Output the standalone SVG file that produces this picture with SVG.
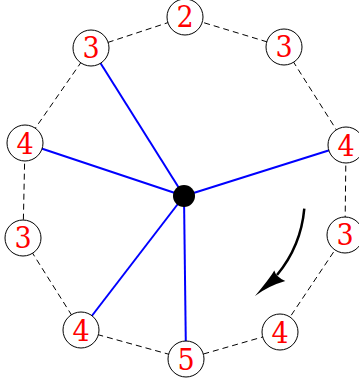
<svg xmlns="http://www.w3.org/2000/svg" width="359" height="383" viewBox="0 0 359 383">
<style>
.node circle{fill:#fff;stroke:#000;stroke-width:1}
.node text{fill:#ff0000;font-family:"DejaVu Serif Condensed","DejaVu Serif",serif;font-stretch:condensed;font-size:30px;text-anchor:middle}
.dash{stroke:#000;stroke-width:1;stroke-dasharray:6,4;fill:none}
.spoke{stroke:#0000ff;stroke-width:2;fill:none}
</style>
<rect width="359" height="383" fill="#fff"/>
<g id="connectors">
<polygon class="dash" points="185,17 284,47 346,145 345,235 280,332 186,359 81,330 23,238 25,143 91,48"/>
<line class="spoke" x1="184" y1="196" x2="91" y2="48"/>
<line class="spoke" x1="184" y1="196" x2="25" y2="143"/>
<line class="spoke" x1="184" y1="196" x2="346" y2="145"/>
<line class="spoke" x1="184" y1="196" x2="81" y2="330"/>
<line class="spoke" x1="184" y1="196" x2="186" y2="359"/>
</g>
<g id="n2" class="node"><circle cx="185" cy="17" r="18"/><text x="185" y="27">2</text></g>
<g id="n3a" class="node"><circle cx="91" cy="48" r="18"/><text x="91" y="58">3</text></g>
<g id="n3b" class="node"><circle cx="284" cy="47" r="18"/><text x="284" y="57">3</text></g>
<g id="n4a" class="node"><circle cx="25" cy="143" r="18"/><text x="25" y="154">4</text></g>
<g id="n4b" class="node"><circle cx="346" cy="145" r="18"/><text x="346" y="156">4</text></g>
<g id="n3c" class="node"><circle cx="23" cy="238" r="18"/><text x="23" y="248">3</text></g>
<g id="n3d" class="node"><circle cx="345" cy="235" r="18"/><text x="345" y="245">3</text></g>
<g id="n4c" class="node"><circle cx="81" cy="330" r="18"/><text x="81" y="341">4</text></g>
<g id="n4d" class="node"><circle cx="280" cy="332" r="18"/><text x="280" y="343">4</text></g>
<g id="n5" class="node"><circle cx="186" cy="359" r="18"/><text x="186" y="370">5</text></g>
<g id="hub"><circle cx="184" cy="196" r="11" fill="#000"/></g>
<g id="rotation">
<path d="M304.3,208.6 A121,121 0 0 1 277,275" fill="none" stroke="#000" stroke-width="2.5"/>
<path d="M255,296 Q270,278 274.3,270.5 Q276,277 285.3,281 Q268,286 255,296 Z" fill="#000"/>
</g>
</svg>
